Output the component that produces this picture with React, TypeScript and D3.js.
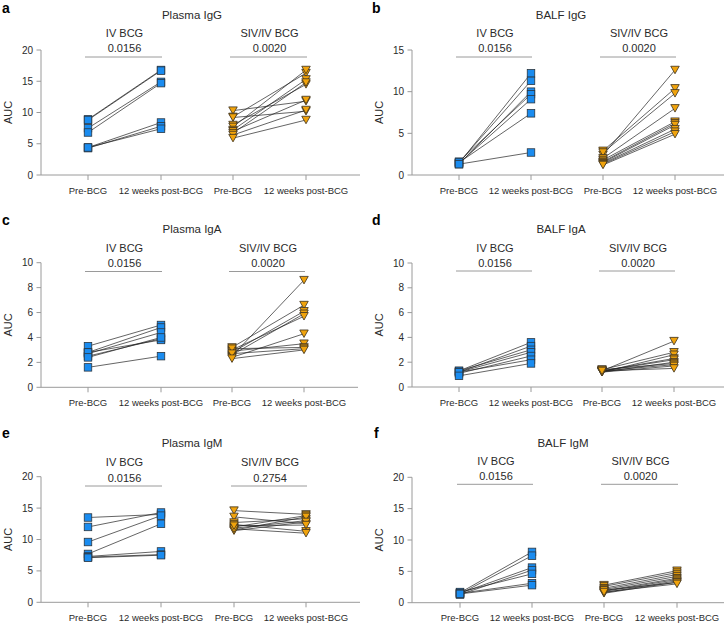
import React from "react";
import * as d3 from "d3";

// ---------- DATA ----------
const timepoints = ["Pre-BCG", "12 weeks post-BCG"];
const groups = ["IV BCG", "SIV/IV BCG"];
const panelLetters = ["a", "b", "c", "d", "e", "f"];
const panelTitles = ["Plasma IgG", "BALF IgG", "Plasma IgA", "BALF IgA", "Plasma IgM", "BALF IgM"];
const pValuesIV = ["0.0156", "0.0156", "0.0156", "0.0156", "0.0156", "0.0156"];
const pValuesSIV = ["0.0020", "0.0020", "0.0020", "0.0020", "0.2754", "0.0020"];
const yMaxes = [20, 15, 10, 10, 20, 20];
const yTickSteps = [5, 5, 2, 2, 5, 5];

// a: Plasma IgG
const aIvPre = [8.9, 8.8, 7.5, 6.8, 4.4, 4.3, 4.4];
const aIvPost = [16.8, 16.7, 14.9, 14.7, 8.4, 7.8, 7.4];
const aSivPre = [10.3, 9.3, 9.2, 8.0, 7.7, 7.2, 7.0, 6.7, 6.4, 5.9];
const aSivPost = [11.8, 16.3, 10.2, 14.5, 16.8, 15.3, 12.0, 14.8, 10.4, 8.8];
// b: BALF IgG
const bIvPre = [1.4, 1.5, 1.3, 1.6, 1.4, 1.5, 1.3];
const bIvPost = [12.2, 11.3, 10.0, 9.7, 9.1, 7.4, 2.7];
const bSivPre = [2.4, 2.9, 2.7, 2.0, 1.8, 1.6, 1.5, 1.4, 1.3, 1.2];
const bSivPost = [12.6, 10.4, 9.8, 8.0, 6.4, 6.2, 6.0, 5.5, 5.2, 4.9];
// c: Plasma IgA
const cIvPre = [3.3, 2.8, 2.7, 2.5, 2.8, 2.4, 1.6];
const cIvPost = [5.0, 4.8, 4.4, 3.9, 3.8, 4.0, 2.5];
const cSivPre = [2.5, 3.2, 2.8, 2.6, 3.0, 2.4, 2.9, 3.1, 2.7, 2.3];
const cSivPost = [8.6, 6.6, 6.1, 5.9, 5.7, 4.3, 3.5, 3.2, 3.1, 3.0];
// d: BALF IgA
const dIvPre = [1.3, 1.2, 1.3, 1.2, 1.1, 1.2, 0.9];
const dIvPost = [3.6, 3.3, 3.0, 2.8, 2.5, 2.2, 1.9];
const dSivPre = [1.3, 1.4, 1.2, 1.3, 1.3, 1.2, 1.4, 1.3, 1.2, 1.3];
const dSivPost = [3.7, 2.8, 2.6, 2.3, 2.2, 2.0, 1.9, 1.8, 1.7, 1.5];
// e: Plasma IgM
const eIvPre = [13.5, 12.0, 9.6, 7.7, 7.3, 7.2, 7.1];
const eIvPost = [14.0, 14.3, 13.8, 12.5, 8.1, 7.6, 7.5];
const eSivPre = [14.6, 13.6, 12.7, 12.4, 12.0, 11.8, 11.5, 11.4, 11.7, 12.2];
const eSivPost = [14.0, 12.5, 13.3, 11.3, 13.8, 13.0, 13.6, 12.8, 11.0, 12.3];
// f: BALF IgM
const fIvPre = [1.6, 1.4, 1.5, 1.3, 1.7, 1.5, 1.4];
const fIvPost = [8.1, 7.5, 5.6, 5.2, 4.6, 3.1, 2.8];
const fSivPre = [2.8, 2.6, 2.3, 2.1, 1.9, 1.8, 1.6, 1.5, 2.0, 1.7];
const fSivPost = [5.1, 4.8, 4.5, 4.2, 3.9, 3.7, 3.5, 3.3, 3.2, 3.0];

const ivPre = [aIvPre, bIvPre, cIvPre, dIvPre, eIvPre, fIvPre];
const ivPost = [aIvPost, bIvPost, cIvPost, dIvPost, eIvPost, fIvPost];
const sivPre = [aSivPre, bSivPre, cSivPre, dSivPre, eSivPre, fSivPre];
const sivPost = [aSivPost, bSivPost, cSivPost, dSivPost, eSivPost, fSivPost];

// ---------- LAYOUT ----------
const layouts = [
  { axisX: 41, yTop: 50, yBot: 175, cats: [88, 161, 233, 306], xEnd: 360, titleX: 192, titleY: 15, groupY: 33, pY: 48, brY: 57, letterX: 2, letterY: 8 },
  { axisX: 412, yTop: 50, yBot: 175, cats: [459, 531, 603, 675], xEnd: 724, titleX: 561, titleY: 15, groupY: 33, pY: 48, brY: 57, letterX: 372, letterY: 8 },
  { axisX: 41, yTop: 262.7, yBot: 387.3, cats: [88, 161, 232, 304], xEnd: 358, titleX: 192, titleY: 229, groupY: 248, pY: 263, brY: 271.5, letterX: 2, letterY: 220 },
  { axisX: 412, yTop: 263, yBot: 387, cats: [459, 531, 602, 674], xEnd: 724, titleX: 561, titleY: 229, groupY: 248, pY: 262.7, brY: 271, letterX: 372, letterY: 220 },
  { axisX: 41, yTop: 476.7, yBot: 602.3, cats: [88, 161, 234, 306], xEnd: 360, titleX: 192, titleY: 443, groupY: 462, pY: 477.7, brY: 486, letterX: 2, letterY: 433 },
  { axisX: 412, yTop: 477.3, yBot: 602.7, cats: [460, 532, 604, 677], xEnd: 724, titleX: 563, titleY: 443, groupY: 461, pY: 475.7, brY: 484.3, letterX: 374, letterY: 433 },
];

const BLUE = "#1a8cf0";
const ORANGE = "#f0a30c";
const AXIS = "#9a9a9a";
const TEXT = "#2a2a2a";
const FONT = "'Liberation Sans', Arial, sans-serif";

function Square({ x, y }: { x: number; y: number }) {
  const s = 7.5;
  return <rect x={x - s / 2} y={y - s / 2} width={s} height={s} fill={BLUE} stroke="#2b3640" strokeWidth={0.8} />;
}
function Tri({ x, y }: { x: number; y: number }) {
  const w = 8.5, h = 7.5;
  const p = `M${x - w / 2},${y - h / 2}L${x + w / 2},${y - h / 2}L${x},${y + h / 2}Z`;
  return <path d={p} fill={ORANGE} stroke="#3a3020" strokeWidth={0.8} strokeLinejoin="round" />;
}

function Panel({ i }: { i: number }) {
  const L = layouts[i];
  const y = d3.scaleLinear().domain([0, yMaxes[i]]).range([L.yBot, L.yTop]);
  const x = d3.scalePoint<string>().domain(["0", "1", "2", "3"]).range([L.cats[0], L.cats[3]]);
  const xs = L.cats;
  const ticks = d3.range(0, yMaxes[i] + 0.001, yTickSteps[i]);
  const groupData = [
    { pre: ivPre[i], post: ivPost[i], c0: xs[0], c1: xs[1], shape: "sq", label: groups[0], p: pValuesIV[i] },
    { pre: sivPre[i], post: sivPost[i], c0: xs[2], c1: xs[3], shape: "tri", label: groups[1], p: pValuesSIV[i] },
  ];
  void x;
  return (
    <g fontFamily={FONT}>
      <text x={L.letterX} y={L.letterY + 5} fontSize={14} fontWeight="bold" fill="#000">{panelLetters[i]}</text>
      <text x={L.titleX} y={L.titleY + 4} fontSize={11.5} textAnchor="middle" fill={TEXT}>{panelTitles[i]}</text>
      {/* y axis */}
      <line x1={L.axisX} x2={L.axisX} y1={L.yTop} y2={L.yBot} stroke={AXIS} strokeWidth={1} />
      {ticks.map((t) => (
        <g key={t}>
          <line x1={L.axisX - 4.5} x2={L.axisX} y1={y(t)} y2={y(t)} stroke={AXIS} strokeWidth={1} />
          <text x={L.axisX - 8} y={y(t) + 3.5} fontSize={10} textAnchor="end" fill={TEXT}>{t}</text>
        </g>
      ))}
      <text transform={`translate(${L.axisX - 33},${(L.yTop + L.yBot) / 2}) rotate(-90)`} fontSize={11} textAnchor="middle" dy="0.35em" fill={TEXT}>AUC</text>
      {/* x axis */}
      <line x1={L.axisX} x2={L.xEnd} y1={L.yBot} y2={L.yBot} stroke={AXIS} strokeWidth={1} />
      {xs.map((cx, k) => (
        <g key={k}>
          <line x1={cx} x2={cx} y1={L.yBot} y2={L.yBot + 5} stroke={AXIS} strokeWidth={1} />
          <text x={cx} y={L.yBot + 18.5} fontSize={9.5} textAnchor="middle" fill={TEXT}>{timepoints[k % 2]}</text>
        </g>
      ))}
      {groupData.map((g, gi) => (
        <g key={gi}>
          <text x={(g.c0 + g.c1) / 2} y={L.groupY + 4} fontSize={11} textAnchor="middle" fill={TEXT}>{g.label}</text>
          <text x={(g.c0 + g.c1) / 2} y={L.pY + 4} fontSize={11} textAnchor="middle" fill={TEXT}>{g.p}</text>
          <line x1={g.c0 - 3} x2={g.c1 + 1} y1={L.brY} y2={L.brY} stroke={AXIS} strokeWidth={1} />
          {g.pre.map((v, k) => (
            <line key={"l" + k} x1={g.c0} y1={y(v)} x2={g.c1} y2={y(g.post[k])} stroke="#222" strokeWidth={0.7} />
          ))}
          {g.pre.map((v, k) =>
            g.shape === "sq" ? <Square key={"a" + k} x={g.c0} y={y(v)} /> : <Tri key={"a" + k} x={g.c0} y={y(v)} />
          )}
          {g.post.map((v, k) =>
            g.shape === "sq" ? <Square key={"b" + k} x={g.c1} y={y(v)} /> : <Tri key={"b" + k} x={g.c1} y={y(v)} />
          )}
        </g>
      ))}
    </g>
  );
}

export default function App() {
  return (
    <svg width={726} height={623} style={{ position: "absolute", left: 0, top: 0, background: "#fff" }}>
      <rect width={726} height={623} fill="#fff" />
      {layouts.map((_, i) => (
        <Panel key={i} i={i} />
      ))}
    </svg>
  );
}
